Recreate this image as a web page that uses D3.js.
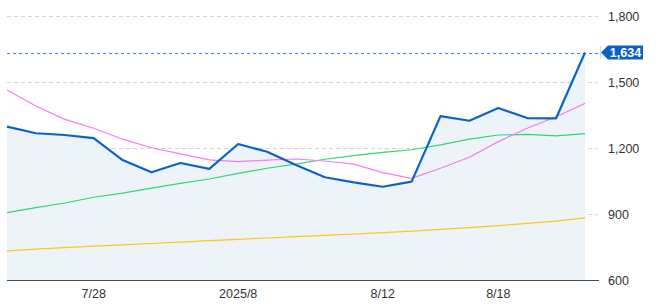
<!DOCTYPE html>
<html><head><meta charset="utf-8">
<script src="https://cdn.jsdelivr.net/npm/d3@7"></script>
<style>body{margin:0;background:#fff}svg{display:block}text{font-family:"Liberation Sans",Arial,sans-serif}</style>
</head><body><svg id="c" width="658" height="306"></svg>
<script>
const dates = ["7/23","7/24","7/25","7/28","7/29","7/30","7/31","8/1","8/4","8/5","8/6","8/7","8/8","8/12","8/13","8/14","8/15","8/18","8/19","8/20","8/21"];
const price = [1297,1267,1259,1245,1145,1090,1132,1105,1218,1183,1123,1067,1044,1024,1047,1345,1324,1382,1336,1335,1634];
const maPink = [1464,1391,1330,1290,1240,1201,1173,1146,1138,1145,1150,1141,1127,1088,1062,1108,1158,1229,1290,1342,1403];
const maGreen = [906,929,950,976,995,1018,1039,1059,1085,1108,1127,1149,1165,1180,1192,1214,1240,1259,1262,1255,1265];
const maYellow = [732,740,747,754,760,766,772,779,785,791,797,803,809,815,822,830,838,847,857,868,882];
const xTickDates = ["7/28","8/4","8/12","8/18"];
const xTickLabels = ["7/28","2025/8","8/12","8/18"];
const yTicks = [600,900,1200,1500,1800];
const lastLabel = "1,634";

const svg = d3.select("#c");
const x = d3.scalePoint().domain(dates).range([7,585]);
const y = d3.scaleLinear().domain([600,1800]).range([280,16]);

// grid
svg.append("g").selectAll("line").data(yTicks.filter(d=>d>600)).join("line")
  .attr("x1",7).attr("x2",598).attr("y1",d=>Math.round(y(d))+0.5).attr("y2",d=>Math.round(y(d))+0.5)
  .attr("stroke","#d4d4d4").attr("stroke-dasharray","4,3").attr("stroke-width",1);

// area
svg.append("path").datum(price)
  .attr("d", d3.area().x((d,i)=>x(dates[i])).y0(y(600)).y1(d=>y(d)))
  .attr("fill","#eef3fa");

// bottom axis line
svg.append("line").attr("x1",7).attr("x2",599).attr("y1",280.5).attr("y2",280.5)
  .attr("stroke","#3d4b5e").attr("stroke-width",1);

const line = d3.line().x((d,i)=>x(dates[i])).y(d=>y(d));
svg.append("path").datum(maYellow).attr("d",line).attr("fill","none").attr("stroke","#ffc61a").attr("stroke-width",1.2);
svg.append("path").datum(maGreen).attr("d",line).attr("fill","none").attr("stroke","#2fd676").attr("stroke-width",1.2);
svg.append("path").datum(maPink).attr("d",line).attr("fill","none").attr("stroke","#f27ef2").attr("stroke-width",1.2);

// last price dashed line
const lv = price[price.length-1];
svg.append("line").attr("x1",7).attr("x2",600).attr("y1",Math.round(y(lv))+0.5).attr("y2",Math.round(y(lv))+0.5)
  .attr("stroke","#3f82e0").attr("stroke-dasharray","3,3").attr("stroke-width",1);

svg.append("path").datum(price).attr("d",line).attr("fill","none").attr("stroke","#0b63c9").attr("stroke-width",2.2).attr("stroke-linejoin","round");

// y labels
svg.append("g").selectAll("text").data(yTicks).join("text")
  .attr("x",608).attr("y",d=>y(d)+4.5).text(d=>d3.format(",")(d))
  .attr("font-size",12.5).attr("fill","#333");

// x labels
svg.append("g").selectAll("text").data(xTickDates).join("text")
  .attr("x",d=>x(d)).attr("y",298).attr("text-anchor","middle")
  .text((d,i)=>xTickLabels[i]).attr("font-size",12.5).attr("fill","#333");

// last value label
const ly = y(lv);
svg.append("line").attr("x1",600.5).attr("x2",600.5).attr("y1",ly-7).attr("y2",ly+7).attr("stroke","#c9daf2");
svg.append("path").attr("d",`M601,${ly} L608,${ly-7} L643,${ly-7} L643,${ly+7} L608,${ly+7} Z`).attr("fill","#0b5fc8");
svg.append("text").attr("x",625.5).attr("y",ly+4.5).attr("text-anchor","middle")
  .attr("font-size",12.5).attr("font-weight","bold").attr("fill","#fff").text(lastLabel);
</script></body></html>
